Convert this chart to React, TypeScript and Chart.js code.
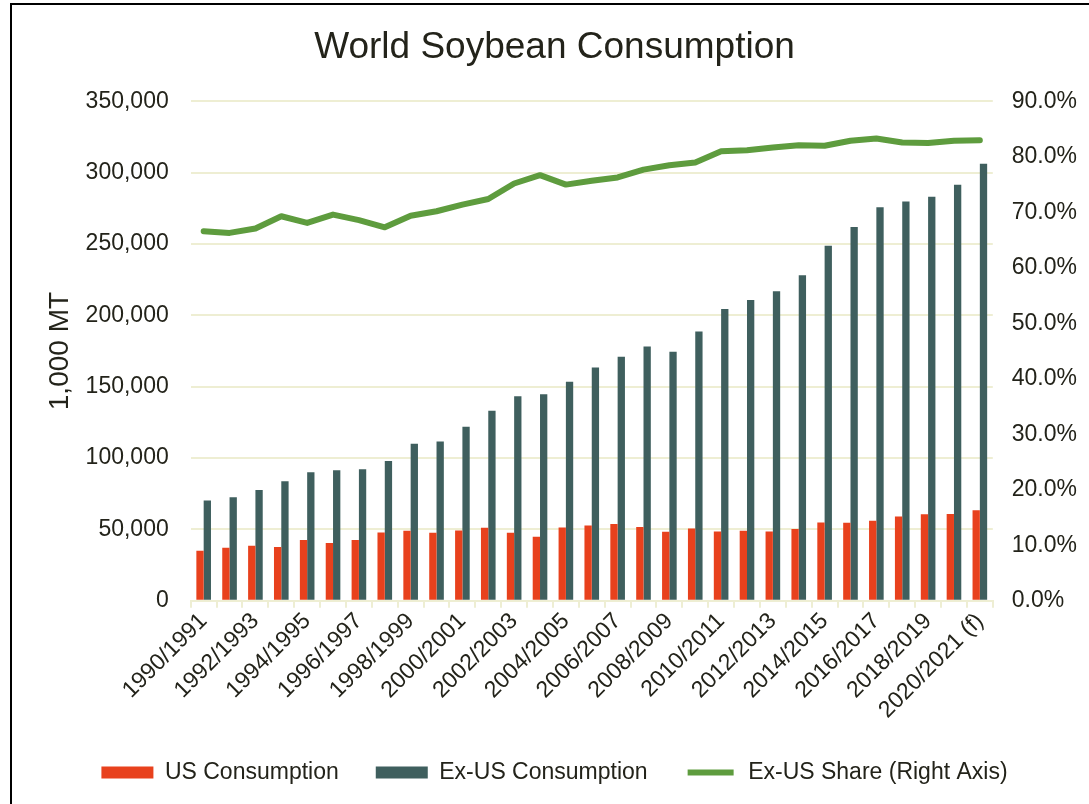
import React, { useEffect, useRef } from "react";
import { Chart, registerables } from "chart.js";

Chart.register(...registerables);

const categories = [
  "1990/1991", "1991/1992", "1992/1993", "1993/1994", "1994/1995", "1995/1996",
  "1996/1997", "1997/1998", "1998/1999", "1999/2000", "2000/2001", "2001/2002",
  "2002/2003", "2003/2004", "2004/2005", "2005/2006", "2006/2007", "2007/2008",
  "2008/2009", "2009/2010", "2010/2011", "2011/2012", "2012/2013", "2013/2014",
  "2014/2015", "2015/2016", "2016/2017", "2017/2018", "2018/2019", "2019/2020",
  "2020/2021 (f)",
];

const usConsumption = [
  35000, 37100, 38500, 37600, 42500, 40400, 42500, 47900, 49100, 47700, 49300,
  51200, 47700, 44900, 51400, 52800, 53700, 51600, 48400, 50700, 48600, 49100,
  48600, 50200, 54900, 54700, 56100, 59100, 60600, 60800, 63400,
];

const exUsConsumption = [
  70200, 72500, 77700, 83800, 90100, 91500, 92200, 97900, 110100, 111700, 122000,
  133100, 143400, 144800, 153500, 163400, 171100, 178200, 174600, 188700, 204400,
  210800, 216900, 228200, 248800, 262000, 275800, 279800, 283100, 291500, 306300,
];

const exUsShare = [
  66.6, 66.3, 67.1, 69.3, 68.1, 69.6, 68.6, 67.3, 69.4, 70.2, 71.4, 72.4, 75.2,
  76.7, 75.0, 75.7, 76.3, 77.7, 78.5, 79.0, 81.0, 81.2, 81.7, 82.1, 82.0, 82.9,
  83.3, 82.6, 82.5, 82.9, 83.0,
];

const seriesNames = ["US Consumption", "Ex-US Consumption", "Ex-US Share (Right Axis)"];
const titleText = "World Soybean Consumption";
const leftAxisTitle = "1,000 MT";
const leftAxisMax = 350000;
const leftAxisStep = 50000;
const rightAxisMax = 90;
const rightAxisStep = 10;

const RED = "#E8411D";
const SLATE = "#3F5F5E";
const GREEN = "#5E9C3E";
const GRID = "#EEEED3";
const TEXT = "#23231a";
const FONT = "'Liberation Sans', Arial, sans-serif";

export default function App() {
  const ref = useRef<HTMLCanvasElement | null>(null);

  useEffect(() => {
    if (!ref.current) return;
    const chart = new Chart(ref.current, {
      type: "bar",
      data: {
        labels: categories,
        datasets: [
          {
            type: "bar",
            label: seriesNames[0],
            data: usConsumption,
            backgroundColor: RED,
            yAxisID: "y",
            categoryPercentage: 0.565,
            barPercentage: 1.0,
            order: 1,
          },
          {
            type: "bar",
            label: seriesNames[1],
            data: exUsConsumption,
            backgroundColor: SLATE,
            yAxisID: "y",
            categoryPercentage: 0.565,
            barPercentage: 1.0,
            order: 1,
          },
          {
            type: "line",
            label: seriesNames[2],
            data: exUsShare,
            borderColor: GREEN,
            backgroundColor: GREEN,
            borderWidth: 6,
            pointRadius: 0,
            tension: 0,
            borderCapStyle: "round",
            borderJoinStyle: "round",
            yAxisID: "y1",
            order: 0,
          } as any,
        ],
      },
      options: {
        responsive: false,
        animation: false,
        devicePixelRatio: 1,
        color: TEXT,
        font: { family: FONT, size: 23 },
        layout: { padding: { top: 26, left: 13, right: -7, bottom: 10 } },
        plugins: {
          tooltip: { enabled: false },
          title: {
            display: true,
            text: titleText,
            color: TEXT,
            font: { family: FONT, size: 37, weight: "normal" },
            padding: { top: 0, bottom: 31 },
          },
          legend: {
            position: "bottom",
            labels: {
              color: TEXT,
              font: { family: FONT, size: 23 },
              boxWidth: 52,
              boxHeight: 12,
              padding: 37,
              sort: (a: any, b: any) => a.datasetIndex - b.datasetIndex,
              generateLabels: (c: any) => {
                const items = Chart.defaults.plugins.legend.labels.generateLabels(c);
                return items.map((it: any) => {
                  if (it.datasetIndex === 2) {
                    return { ...it, fillStyle: GREEN, strokeStyle: "#ffffff", lineWidth: 6, lineCap: "butt", lineDash: [], lineJoin: "miter" };
                  }
                  return { ...it, lineWidth: 0 };
                });
              },
            },
          },
        },
        scales: {
          x: {
            grid: {
              display: true,
              drawOnChartArea: false,
              drawTicks: true,
              tickLength: 7,
              color: GRID,
              lineWidth: 2,
              offset: true,
            },
            border: { display: true, color: GRID, width: 2 },
            ticks: {
              autoSkip: false,
              maxRotation: 45,
              minRotation: 45,
              color: TEXT,
              font: { family: FONT, size: 23 },
              padding: 0,
              callback: (_v: any, i: number) => (i % 2 === 0 ? categories[i] : ""),
            },
          },
          y: {
            position: "left",
            min: 0,
            max: leftAxisMax,
            grid: { color: GRID, lineWidth: 2, drawTicks: false },
            border: { display: false },
            ticks: {
              stepSize: leftAxisStep,
              color: TEXT,
              font: { family: FONT, size: 23 },
              padding: 22,
              callback: (v: any) => Number(v).toLocaleString("en-US"),
            },
            title: {
              display: true,
              text: leftAxisTitle,
              color: TEXT,
              font: { family: FONT, size: 28 },
              padding: { top: 30, bottom: -13 },
            },
          },
          y1: {
            position: "right",
            min: 0,
            max: rightAxisMax,
            grid: { display: false, drawTicks: false },
            border: { display: false },
            ticks: {
              stepSize: rightAxisStep,
              color: TEXT,
              font: { family: FONT, size: 23 },
              padding: 19,
              callback: (v: any) => Number(v).toFixed(1) + "%",
            },
          },
        },
      },
    });
    return () => chart.destroy();
  }, []);

  return (
    <div
      style={{
        position: "absolute",
        left: 0,
        top: 0,
        width: 1089,
        height: 804,
        background: "#fff",
        overflow: "hidden",
      }}
    >
      <div
        style={{
          position: "absolute",
          left: 10,
          top: 3,
          width: 1200,
          height: 1000,
          border: "2px solid #000",
        }}
      />
      <canvas
        ref={ref}
        width={1089}
        height={804}
        style={{ position: "absolute", left: 0, top: 0, width: 1089, height: 804 }}
      />
    </div>
  );
}
